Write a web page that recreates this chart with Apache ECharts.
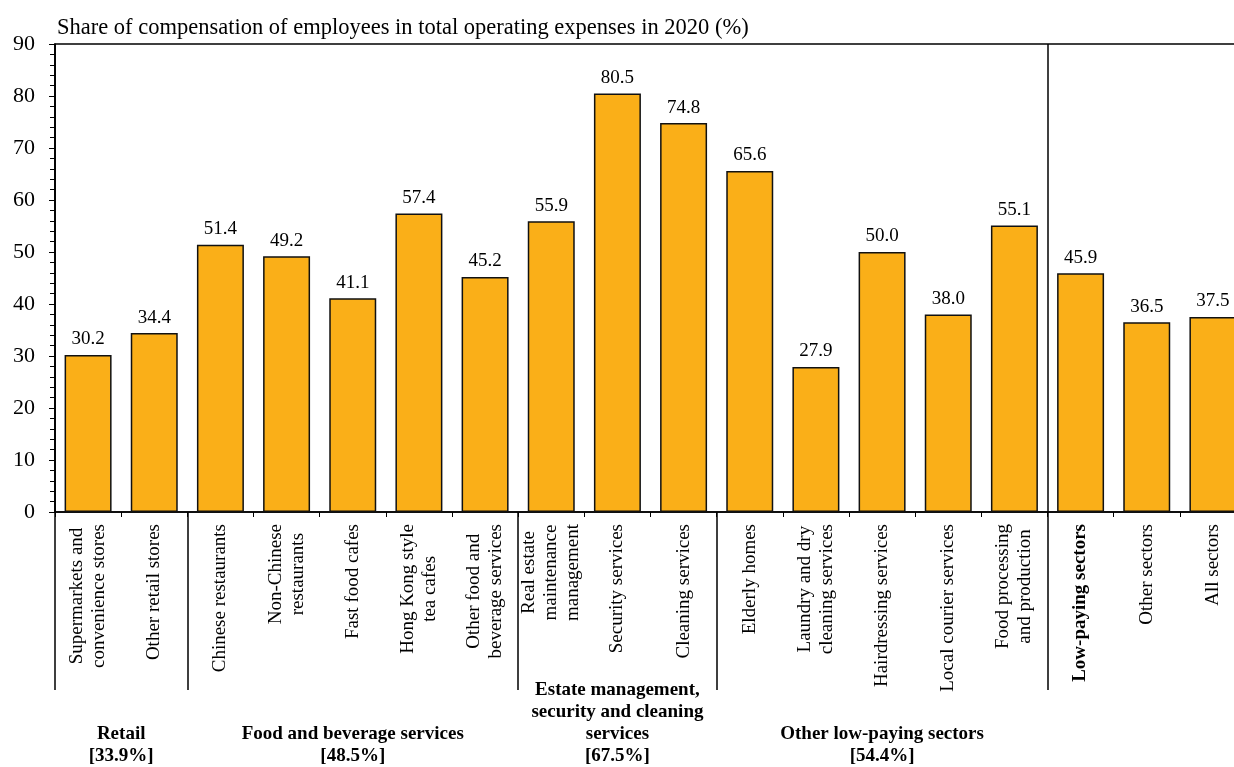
<!DOCTYPE html>
<html>
<head>
<meta charset="utf-8">
<script src="https://cdn.jsdelivr.net/npm/echarts@6/dist/echarts.min.js"></script>
<style>
  html, body { margin: 0; padding: 0; background: #fff; }
  #chart { width: 1234px; height: 767px; }
</style>
</head>
<body>
<div id="chart"></div>
<script>
// categories (line breaks as in the original labels)
const categories = [
  'Supermarkets and\nconvenience stores',
  'Other retail stores',
  'Chinese restaurants',
  'Non-Chinese\nrestaurants',
  'Fast food cafes',
  'Hong Kong style\ntea cafes',
  'Other food and\nbeverage services',
  'Real estate\nmaintenance\nmanagement',
  'Security services',
  'Cleaning services',
  'Elderly homes',
  'Laundry and dry\ncleaning services',
  'Hairdressing services',
  'Local courier services',
  'Food processing\nand production',
  'Low-paying sectors',
  'Other sectors',
  'All sectors'
]
const shares = [30.2, 34.4, 51.4, 49.2, 41.1, 57.4, 45.2, 55.9, 80.5, 74.8, 65.6, 27.9, 50.0, 38.0, 55.1, 45.9, 36.5, 37.5]
const yTicks = [0, 10, 20, 30, 40, 50, 60, 70, 80, 90]

// sector groups under the axis
const groupNames = ['Retail\n[33.9%]', 'Food and beverage services\n[48.5%]', 'Estate management,\nsecurity and cleaning\nservices\n[67.5%]', 'Other low-paying sectors\n[54.4%]']
const groupFirst = [0, 2, 7, 10]
const groupLast = [1, 6, 9, 14]
const boldCategory = 'Low-paying sectors'

const FONT = '"Liberation Serif", "Times New Roman", serif'

let myChart = echarts.init(document.getElementById('chart'))

const sepIndex = groupFirst.concat([15])

// plot area runs a little past the right edge, as in the original
const gridBox = { left: 55, width: 1191, top: 44, height: 468, outerBoundsMode: 'none' }

myChart.setOption({
  animation: false,
  title: {
    text: 'Share of compensation of employees in total operating expenses in 2020 (%)',
    left: 52,
    top: 12,
    textStyle: { fontFamily: FONT, fontSize: 22.5, fontWeight: 'normal', color: '#000' }
  },
  grid: [
    Object.assign({ show: true, borderColor: '#000', borderWidth: 1.5, backgroundColor: 'transparent' }, gridBox),
    Object.assign({}, gridBox)
  ],
  xAxis: [
    {
      type: 'category',
      data: categories,
      gridIndex: 0,
      axisLine: { lineStyle: { color: '#000', width: 1.5 } },
      axisTick: { show: true, length: 5, lineStyle: { color: '#000', width: 1 } },
      splitLine: {
        show: true,
        interval: (i) => i === 0 || i === 15,
        lineStyle: { color: '#000', width: 1.5 }
      },
      axisLabel: {
        interval: 0,
        rotate: 90,
        margin: 12,
        color: '#000',
        fontFamily: FONT,
        fontSize: 19,
        lineHeight: 22,
        formatter: (v) => {
          const key = v === boldCategory ? 'b' : 'c'
          return v.split('\n').map(s => '{' + key + '|' + s + '}').join('\n')
        },
        rich: {
          c: { align: 'center', fontFamily: FONT, fontSize: 19, lineHeight: 22, color: '#000' },
          b: { align: 'center', fontFamily: FONT, fontSize: 19, lineHeight: 22, fontWeight: 'bold', color: '#000' }
        }
      }
    },
    {
      type: 'category',
      data: categories,
      gridIndex: 1,
      position: 'bottom',
      axisLine: { show: false },
      axisLabel: { show: false },
      axisTick: {
        show: true,
        interval: (i) => sepIndex.indexOf(i) >= 0,
        length: 178,
        lineStyle: { color: '#000', width: 1.5 }
      }
    }
  ],
  yAxis: [
    {
      type: 'value',
      gridIndex: 0,
      min: yTicks[0],
      max: yTicks[yTicks.length - 1],
      interval: 10,
      axisLine: { show: true, lineStyle: { color: '#000', width: 1.5 } },
      axisTick: { show: true, length: 6, lineStyle: { color: '#000', width: 1 } },
      minorTick: { show: true, splitNumber: 5, length: 5, lineStyle: { color: '#000', width: 1 } },
      splitLine: { show: false },
      axisLabel: { color: '#000', fontFamily: FONT, fontSize: 22, margin: 20 }
    },
    {
      type: 'value',
      gridIndex: 1,
      min: 0,
      max: 90,
      show: false
    }
  ],
  series: [
    {
      type: 'bar',
      xAxisIndex: 0,
      yAxisIndex: 0,
      data: shares,
      barCategoryGap: '29%',
      itemStyle: { color: '#FAAF18', borderColor: '#111', borderWidth: 1.5 },
      label: {
        show: true,
        position: 'top',
        distance: 6,
        color: '#000',
        fontFamily: FONT,
        fontSize: 19,
        formatter: (p) => p.value.toFixed(1)
      }
    }
  ]
})

// group names under the category labels, centred on their groups
const groupText = groupNames.map((name, k) => {
  const x0 = myChart.convertToPixel({ xAxisIndex: 0 }, categories[groupFirst[k]])
  const x1 = myChart.convertToPixel({ xAxisIndex: 0 }, categories[groupLast[k]])
  return {
    type: 'text',
    x: (x0 + x1) / 2,
    y: 767,
    style: {
      text: name,
      align: 'center',
      verticalAlign: 'bottom',
      font: 'bold 19px ' + FONT,
      lineHeight: 22,
      fill: '#000'
    }
  }
})
myChart.setOption({ graphic: groupText })
</script>
</body>
</html>
